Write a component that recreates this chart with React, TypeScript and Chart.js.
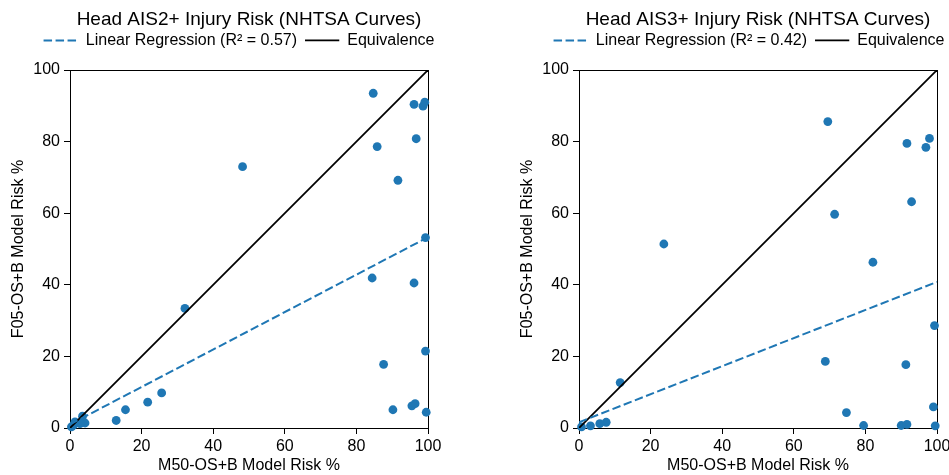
import React, { useEffect, useRef } from 'react';
import { Chart, registerables } from 'chart.js';

Chart.register(...registerables);

// ---------- text ----------
const TITLE_AIS2 = 'Head AIS2+ Injury Risk (NHTSA Curves)';
const TITLE_AIS3 = 'Head AIS3+ Injury Risk (NHTSA Curves)';
const REG_LABEL_AIS2 = 'Linear Regression (R² = 0.57)';
const REG_LABEL_AIS3 = 'Linear Regression (R² = 0.42)';
const EQ_LABEL = 'Equivalence';
const X_TITLE = 'M50-OS+B Model Risk %';
const Y_TITLE = 'F05-OS+B Model Risk %';
const TICKS = [0, 20, 40, 60, 80, 100];

// ---------- data: Head AIS2+ ----------
const ais2M50 = [84.7, 96.1, 98.6, 99.1, 96.7, 85.8, 48.2, 91.6, 99.3, 84.4, 96.1, 32.1, 99.3, 87.6, 25.6, 21.7, 15.5, 12.9, 90.2, 95.5, 96.4, 99.5, 3.5, 4.2, 1.4, 0.9, 2.8, 0.4];
const ais2F05 = [93.5, 90.4, 89.9, 91.0, 80.8, 78.6, 73.0, 69.2, 53.2, 41.9, 40.5, 33.4, 21.5, 17.8, 9.8, 7.2, 5.1, 2.1, 5.1, 6.2, 6.8, 4.4, 3.3, 1.4, 1.7, 0.7, 1.2, 0.3];
const ais2RegX = [0, 100];
const ais2RegY = [1.0, 53.3];

// ---------- data: Head AIS3+ ----------
const ais3M50 = [69.5, 91.6, 97.9, 96.9, 92.9, 71.4, 23.7, 82.1, 99.3, 68.8, 91.3, 11.5, 74.7, 99.0, 79.5, 90.0, 91.6, 99.5, 7.6, 5.8, 3.2, 0.7];
const ais3F05 = [85.6, 79.5, 80.9, 78.4, 63.2, 59.7, 51.4, 46.3, 28.6, 18.6, 17.7, 12.7, 4.3, 5.9, 0.7, 0.7, 1.0, 0.6, 1.6, 1.2, 0.6, 0.3];
const ais3RegX = [0, 100];
const ais3RegY = [1.6, 40.8];

// ---------- equivalence ----------
const EQ_X = [0, 100];
const EQ_Y = [0, 100];

const FONT = '"Liberation Sans", Arial, Helvetica, sans-serif';
const BLUE = '#1f77b4';
const H = 475;

type Panel = {
  title: string;
  regLabel: string;
  xs: number[];
  ys: number[];
  regX: number[];
  regY: number[];
  left: number;
  width: number;
  rightSpace: number;
};

const PANELS: Panel[] = [
  { title: TITLE_AIS2, regLabel: REG_LABEL_AIS2, xs: ais2M50, ys: ais2F05, regX: ais2RegX, regY: ais2RegY, left: 0, width: 478, rightSpace: 50 },
  { title: TITLE_AIS3, regLabel: REG_LABEL_AIS3, xs: ais3M50, ys: ais3F05, regX: ais3RegX, regY: ais3RegY, left: 509, width: 480, rightSpace: 52 },
];

const pts = (xs: number[], ys: number[]) => xs.map((x, i) => ({ x, y: ys[i] }));

function buildConfig(p: Panel): any {
  const tickFont = { family: FONT, size: 16 };
  const setTicks = (s: any) => {
    s.ticks = TICKS.map((v) => ({ value: v }));
  };
  const hiddenAxis = (position: string, fit: (s: any) => void) => ({
    type: 'linear',
    position,
    min: 0,
    max: 100,
    display: true,
    ticks: { display: false },
    grid: { display: false },
    border: { display: true, color: '#000', width: 1 },
    afterFit: fit,
  });
  return {
    type: 'scatter',
    data: {
      datasets: [
        {
          type: 'line',
          label: p.regLabel,
          data: pts(p.regX, p.regY),
          borderColor: BLUE,
          backgroundColor: 'rgba(0,0,0,0)',
          borderWidth: 2,
          borderDash: [8.5, 3.5],
          pointRadius: 0,
          fill: false,
          order: 0,
          xAxisID: 'x',
          yAxisID: 'y',
        },
        {
          type: 'line',
          label: EQ_LABEL,
          data: pts(EQ_X, EQ_Y),
          borderColor: '#000',
          backgroundColor: 'rgba(0,0,0,0)',
          borderWidth: 1.8,
          pointRadius: 0,
          fill: false,
          order: 1,
          xAxisID: 'x',
          yAxisID: 'y',
        },
        {
          type: 'scatter',
          label: 'data',
          data: pts(p.xs, p.ys),
          backgroundColor: BLUE,
          borderWidth: 0,
          pointRadius: 4.4,
          order: 2,
          clip: false,
          xAxisID: 'x',
          yAxisID: 'y',
        },
      ],
    },
    options: {
      animation: false,
      responsive: false,
      events: [],
      layout: { padding: 0, autoPadding: false },
      scales: {
        x: {
          type: 'linear',
          position: 'bottom',
          min: 0,
          max: 100,
          afterBuildTicks: setTicks,
          ticks: { font: tickFont, color: '#000', padding: 3, maxRotation: 0, autoSkip: false },
          grid: { display: true, drawOnChartArea: false, drawTicks: true, tickLength: 6, color: '#000', lineWidth: 1 },
          border: { display: true, color: '#000', width: 1 },
          title: { display: true, text: X_TITLE, font: tickFont, color: '#000', padding: { top: 0, bottom: 0 } },
          afterFit: (s: any) => {
            s.height = 47;
          },
        },
        y: {
          type: 'linear',
          position: 'left',
          min: 0,
          max: 100,
          afterBuildTicks: setTicks,
          ticks: { font: tickFont, color: '#000', padding: 4, autoSkip: false },
          grid: { display: true, drawOnChartArea: false, drawTicks: true, tickLength: 6, color: '#000', lineWidth: 1 },
          border: { display: true, color: '#000', width: 1 },
          title: { display: true, text: Y_TITLE, font: tickFont, color: '#000', padding: { top: 9.4, bottom: 0 } },
          afterFit: (s: any) => {
            s.width = 70;
          },
        },
        x2: hiddenAxis('top', (s: any) => {
          s.height = 11.6;
        }),
        y2: hiddenAxis('right', (s: any) => {
          s.width = p.rightSpace;
        }),
      },
      plugins: {
        tooltip: { enabled: false },
        title: {
          display: true,
          text: p.title,
          fullSize: false,
          color: '#000',
          font: { family: FONT, size: 19, weight: 'normal', lineHeight: 1.2 },
          padding: { top: 8, bottom: -6.4 },
        },
        legend: {
          display: true,
          position: 'top',
          fullSize: true,
          align: 'center',
          labels: {
            filter: (item: any) => item.datasetIndex !== 2,
            boxWidth: 34.25,
            boxHeight: 0,
            padding: 8,
            color: '#000',
            font: { family: FONT, size: 16 },
          },
        },
      },
    },
  };
}

function ChartPanel({ panel }: { panel: Panel }) {
  const ref = useRef<HTMLCanvasElement | null>(null);
  useEffect(() => {
    if (!ref.current) return;
    const chart = new Chart(ref.current, buildConfig(panel));
    return () => chart.destroy();
  }, [panel]);
  return (
    <div style={{ position: 'absolute', left: panel.left, top: 0, width: panel.width, height: H }}>
      <canvas ref={ref} width={panel.width} height={H} style={{ display: 'block', width: panel.width, height: H }} />
    </div>
  );
}

export default function App() {
  return (
    <div style={{ position: 'fixed', left: 0, top: 0, width: 949, height: H, overflow: 'hidden', background: '#fff' }}>
      {PANELS.map((p, i) => (
        <ChartPanel key={i} panel={p} />
      ))}
    </div>
  );
}
